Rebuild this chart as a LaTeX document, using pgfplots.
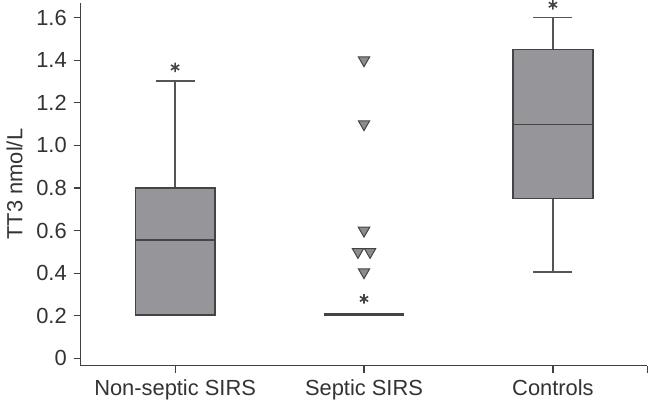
\documentclass[border=0pt]{standalone}
\usepackage{pgfplots}
\pgfplotsset{compat=1.18}
\usepgfplotslibrary{statistics}
\usepackage{fontspec}
\setmainfont{Liberation Sans}
\definecolor{boxfill}{RGB}{150,150,154}
\definecolor{boxedge}{RGB}{68,68,68}
\definecolor{whisk}{RGB}{85,85,85}
\definecolor{trifill}{RGB}{140,140,140}
\begin{document}
\begin{tikzpicture}
\begin{axis}[
  scale only axis, width=285bp, height=182.5bp,
  xmin=-0.5, xmax=2.5, ymin=-0.034, ymax=1.67,
  boxplot/draw direction=y,
  axis x line*=bottom, axis y line*=left,
  axis line style={-, draw=black!75, line width=0.7bp},
  tick style={draw=black!75, line width=0.6bp},
  tick align=outside, major tick length=3.5bp,
  xtick={0,1,2}, xticklabels={Non-septic SIRS, Septic SIRS, Controls},
  extra x ticks={2.5}, extra x tick labels={},
  ytick={0,0.2,0.4,0.6,0.8,1.0,1.2,1.4,1.6},
  yticklabels={0,0.2,0.4,0.6,0.8,1.0,1.2,1.4,1.6},
  ticklabel style={font=\fontsize{11bp}{13bp}\selectfont, text=black!80},
  ylabel={TT3 nmol/L},
  ylabel style={font=\fontsize{11bp}{13bp}\selectfont, text=black!80},
  clip=false,
]
\addplot[draw=boxedge, line width=0.9bp, fill=boxfill,
  boxplot prepared={draw position=0, median=0.555, upper quartile=0.8, lower quartile=0.205,
    upper whisker=1.302, lower whisker=0.205, box extend=0.42, whisker extend=0.206,
    every whisker/.style={draw=whisk, line width=0.7bp},
    every median/.style={draw=boxedge, line width=0.9bp}}] coordinates {};
\addplot[draw=boxedge, line width=1.6bp, fill=boxedge,
  boxplot prepared={draw position=1, median=0.205, upper quartile=0.205, lower quartile=0.205,
    upper whisker=0.205, lower whisker=0.205, box extend=0.42, whisker extend=0.2}] coordinates {};
\addplot[draw=boxedge, line width=0.9bp, fill=boxfill,
  boxplot prepared={draw position=2, median=1.098, upper quartile=1.45, lower quartile=0.75,
    upper whisker=1.6, lower whisker=0.405, box extend=0.42, whisker extend=0.206,
    every whisker/.style={draw=whisk, line width=0.7bp},
    every median/.style={draw=boxedge, line width=0.9bp}}] coordinates {};
\addplot[only marks, mark=triangle*, mark size=3.3bp,
  mark options={rotate=180, fill=trifill, draw=boxedge, line width=0.5bp}]
  coordinates {(1,1.4) (1,1.1) (1,0.6) (0.968,0.5) (1.032,0.5) (1,0.405)};
\addplot[only marks, mark=asterisk, mark size=2.4bp,
  mark options={draw=boxedge, line width=0.8bp}]
  coordinates {(0,1.366) (1,0.279) (2,1.66)};
\end{axis}
\end{tikzpicture}
\end{document}
